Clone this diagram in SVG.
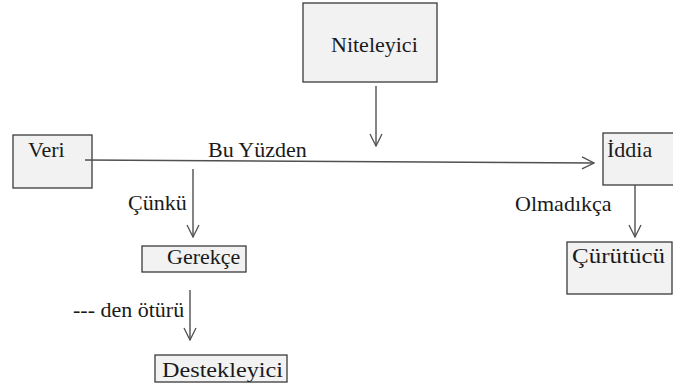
<svg xmlns="http://www.w3.org/2000/svg" width="673" height="383" viewBox="0 0 673 383">
  <defs>
    <marker id="open-arrow" viewBox="0 0 14 14" refX="13" refY="7" markerWidth="14" markerHeight="14" markerUnits="userSpaceOnUse" orient="auto">
      <path d="M1,1 L13,7 L1,13" fill="none" stroke="#505050" stroke-width="1.3"/>
    </marker>
  </defs>
  <style>
    .box { fill: #f2f2f2; stroke: #3a3a3a; stroke-width: 1.3; }
    .lbl { font-family: "Liberation Serif", "DejaVu Serif", serif; font-size: 22px; fill: #1a1a1a; }
    .conn { stroke: #505050; stroke-width: 1.4; fill: none; marker-end: url(#open-arrow); }
  </style>
  <rect width="673" height="383" fill="#ffffff"/>

  <g id="niteleyici">
    <rect class="box" x="303" y="3" width="134" height="79"/>
    <text class="lbl" x="331" y="52">Niteleyici</text>
  </g>

  <g id="veri">
    <rect class="box" x="13" y="135" width="79" height="53"/>
    <text class="lbl" x="28" y="157">Veri</text>
  </g>

  <g id="iddia">
    <rect class="box" x="603" y="133" width="72" height="52"/>
    <text class="lbl" x="607" y="157">İddia</text>
  </g>

  <g id="curutucu">
    <rect class="box" x="567" y="242" width="105" height="52"/>
    <text class="lbl" x="572" y="263" textLength="93" lengthAdjust="spacingAndGlyphs">Çürütücü</text>
  </g>

  <g id="gerekce">
    <rect class="box" x="142" y="246" width="104" height="26"/>
    <text class="lbl" x="167" y="264">Gerekçe</text>
  </g>

  <g id="destekleyici">
    <rect class="box" x="155" y="355" width="132" height="27"/>
    <text class="lbl" x="162" y="377" textLength="121" lengthAdjust="spacingAndGlyphs">Destekleyici</text>
  </g>

  <g id="connectors">
    <line class="conn" x1="85" y1="160" x2="594" y2="163"/>
    <line class="conn" x1="376" y1="86" x2="376" y2="146"/>
    <line class="conn" x1="193" y1="169" x2="193" y2="237"/>
    <line class="conn" x1="635" y1="185" x2="635" y2="237"/>
    <line class="conn" x1="190" y1="290" x2="190" y2="340"/>
  </g>

  <g id="connector-labels">
    <text class="lbl" x="208" y="157">Bu Yüzden</text>
    <text class="lbl" x="128" y="210">Çünkü</text>
    <text class="lbl" x="515" y="211">Olmadıkça</text>
    <text class="lbl" x="73" y="317">--- den ötürü</text>
  </g>
</svg>
